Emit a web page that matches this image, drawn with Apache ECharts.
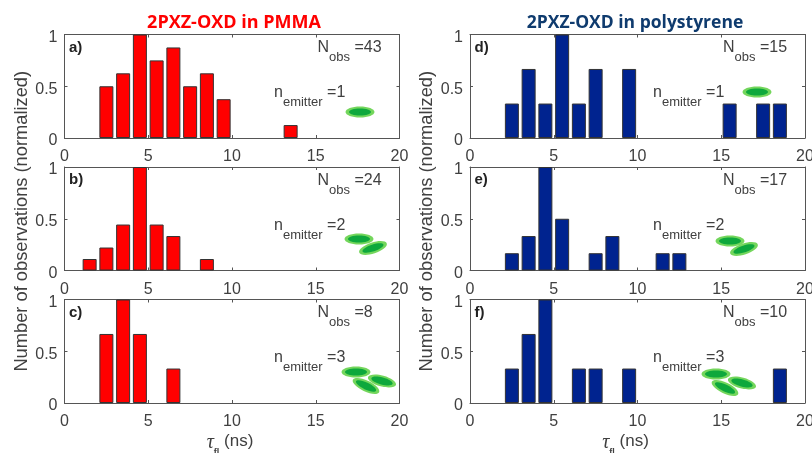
<!DOCTYPE html>
<html>
<head>
<meta charset="utf-8">
<style>html,body{margin:0;padding:0;background:#fff;overflow:hidden}#c{width:812px;height:453px}</style>
<script src="https://cdn.jsdelivr.net/npm/echarts@6/dist/echarts.min.js"></script>
</head>
<body>
<div id="c"></div>
<script>
// Data: lifetime bin centres (ns) and normalized observation counts
var tauA = [2.5,3.5,4.5,5.5,6.5,7.5,8.5,9.5,13.5];
var valA = [0.5,0.625,1,0.75,0.875,0.5,0.625,0.375,0.125];
var tauB = [1.5,2.5,3.5,4.5,5.5,6.5,8.5];
var valB = [0.111,0.222,0.444,1,0.444,0.333,0.111];
var tauC = [2.5,3.5,4.5,6.5];
var valC = [0.667,1,0.667,0.333];
var tauD = [2.5,3.5,4.5,5.5,6.5,7.5,9.5,15.5,17.5,18.5];
var valD = [0.333,0.667,0.333,1,0.333,0.667,0.667,0.333,0.333,0.333];
var tauE = [2.5,3.5,4.5,5.5,7.5,8.5,11.5,12.5];
var valE = [0.167,0.333,1,0.5,0.167,0.333,0.167,0.167];
var tauF = [2.5,3.5,4.5,6.5,7.5,9.5,18.5];
var valF = [0.333,0.667,1,0.333,0.333,0.333,0.333];
var panelLetters = ['a)','b)','c)','d)','e)','f)'];
var nObs = [43,24,8,15,17,10];
var nEmitter = [1,2,3,1,2,3];
var titles = ['2PXZ-OXD in PMMA','2PXZ-OXD in polystyrene'];

var taus = [tauA,tauB,tauC,tauD,tauE,tauF];
var vals = [valA,valB,valC,valD,valE,valF];
var lefts = [64.5,470];
var tops = [34.5,167,299.5];
var W = 335, H = 103.5;
var FONT = '"Liberation Sans", Arial, sans-serif';
var INK = '#404040', AX = '#555555';
var colors = ['#ff0000','#00238f'];

var grids=[],xAxes=[],yAxes=[],series=[],graphics=[];

function ell(x,y,deg){
  var r = deg*Math.PI/180;
  graphics.push({type:'ellipse',x:x,y:y,rotation:r,z:20,shape:{cx:0,cy:0,rx:14.5,ry:5.5},style:{fill:'#74d65c'}});
  graphics.push({type:'ellipse',x:x,y:y,rotation:r,z:21,shape:{cx:0,cy:0,rx:11,ry:3.5},style:{fill:'#0ea83c'}});
}
function txt(x,y,text,rich,extra){
  var s = {text:text,fill:INK,font:'16px '+FONT,textVerticalAlign:'middle'};
  if(rich) s.rich = rich;
  for(var k in (extra||{})) s[k]=extra[k];
  graphics.push({type:'text',x:x,y:y,z:30,style:s});
}
var subRich = {
  a:{fontSize:16,fontFamily:'Liberation Sans',fill:INK,color:INK,lineHeight:24,verticalAlign:'top'},
  b:{fontSize:13,fontFamily:'Liberation Sans',fill:INK,color:INK,lineHeight:24,verticalAlign:'bottom'}
};

for(var i=0;i<6;i++){
  var col = i<3?0:1, row = i%3;
  var L = lefts[col], T = tops[row];
  grids.push({left:L,top:T,width:W,height:H,show:false,outerBoundsMode:'none'});
  var xa = {gridIndex:i,type:'value',min:0,max:20,interval:5,position:'bottom',
    axisLine:{show:true,onZero:false,lineStyle:{color:AX,width:1}},
    axisTick:{show:true,inside:true,length:3,lineStyle:{color:AX}},
    axisLabel:{show:true,color:INK,fontSize:16,fontFamily:'Liberation Sans',margin:11,showMinLabel:true,showMaxLabel:true,hideOverlap:false},
    splitLine:{show:false}};
  if(row===2){
    xa.name = '{t|\u03C4}{s|fl}{n| (ns)}';
    xa.nameLocation='middle'; xa.nameGap=30;
    xa.nameTextStyle={padding:[0,col===0?4:24,0,0],rich:{
      t:{fontSize:20,fontFamily:'Liberation Serif',fontStyle:'italic',color:INK,lineHeight:24,verticalAlign:'top'},
      s:{fontSize:9,fontWeight:'bold',fontFamily:'Liberation Sans',color:INK,lineHeight:24,verticalAlign:'bottom'},
      n:{fontSize:17,fontFamily:'Liberation Sans',color:INK,lineHeight:24,verticalAlign:'top'}}};
  }
  var xb = {gridIndex:i,type:'value',min:0,max:20,interval:5,position:'top',
    axisLine:{show:true,onZero:false,lineStyle:{color:AX,width:1}},
    axisTick:{show:true,inside:true,length:3,lineStyle:{color:AX}},
    axisLabel:{show:false},splitLine:{show:false}};
  var ya = {gridIndex:i,type:'value',min:0,max:1,interval:0.5,position:'left',
    axisLine:{show:true,onZero:false,lineStyle:{color:AX,width:1}},
    axisTick:{show:true,inside:true,length:3,lineStyle:{color:AX}},
    axisLabel:{show:true,color:INK,fontSize:16,fontFamily:'Liberation Sans',margin:7,verticalAlign:'top',lineHeight:6,showMinLabel:true,showMaxLabel:true,hideOverlap:false},
    splitLine:{show:false}};
  if(row===1){
    ya.name='Number of observations (normalized)';
    ya.nameLocation='middle'; ya.nameGap=34;
    ya.nameTextStyle={color:INK,fontSize:18.3,fontFamily:'Liberation Sans',padding:[0,5,0,0]};
  }
  var yb = {gridIndex:i,type:'value',min:0,max:1,interval:0.5,position:'right',
    axisLine:{show:true,onZero:false,lineStyle:{color:AX,width:1}},
    axisTick:{show:true,inside:true,length:3,lineStyle:{color:AX}},
    axisLabel:{show:false},splitLine:{show:false}};
  xAxes.push(xa,xb); yAxes.push(ya,yb);
  series.push({type:'bar',xAxisIndex:i*2,yAxisIndex:i*2,barWidth:14,z:5,silent:true,
    itemStyle:{color:colors[col],borderColor:'#333333',borderWidth:1},
    data:taus[i].map(function(t,j){return [t,vals[i][j]];})});
  // annotations
  txt(L+4.5,T+13,panelLetters[i],null,{font:'bold 15px '+FONT,fill:'#222'});
  txt(L+253,T+17.5,'{a|N}{b|obs}{a| ='+nObs[i]+'}',subRich);
  txt((col===0?274:653),T+62.5,'{a|n}{b|emitter}{a| ='+nEmitter[i]+'}',subRich);
}
// emitter glyphs
ell(360,112,0);
ell(359,239,0); ell(373,248,18);
ell(356,372,0); ell(366,386,-25); ell(382,381,-15);
ell(757,92,0);
ell(730,241,0); ell(744,249,18);
ell(716,374,0); ell(725,388,-25); ell(742,383,-15);

var chart = echarts.init(document.getElementById('c'),null,{renderer:'canvas'});
chart.setOption({
  animation:false,backgroundColor:'#ffffff',
  title:[
    {text:titles[0],left:229,top:9,textAlign:'center',textStyle:{color:'#ff0000',fontSize:18,fontWeight:'bold',fontFamily:'Open Sans'}},
    {text:titles[1],left:630,top:9,textAlign:'center',textStyle:{color:'#0f3b6e',fontSize:17.5,fontWeight:'bold',fontFamily:'Open Sans'}}
  ],
  grid:grids,xAxis:xAxes,yAxis:yAxes,series:series,graphic:graphics
});
</script>
</body>
</html>
